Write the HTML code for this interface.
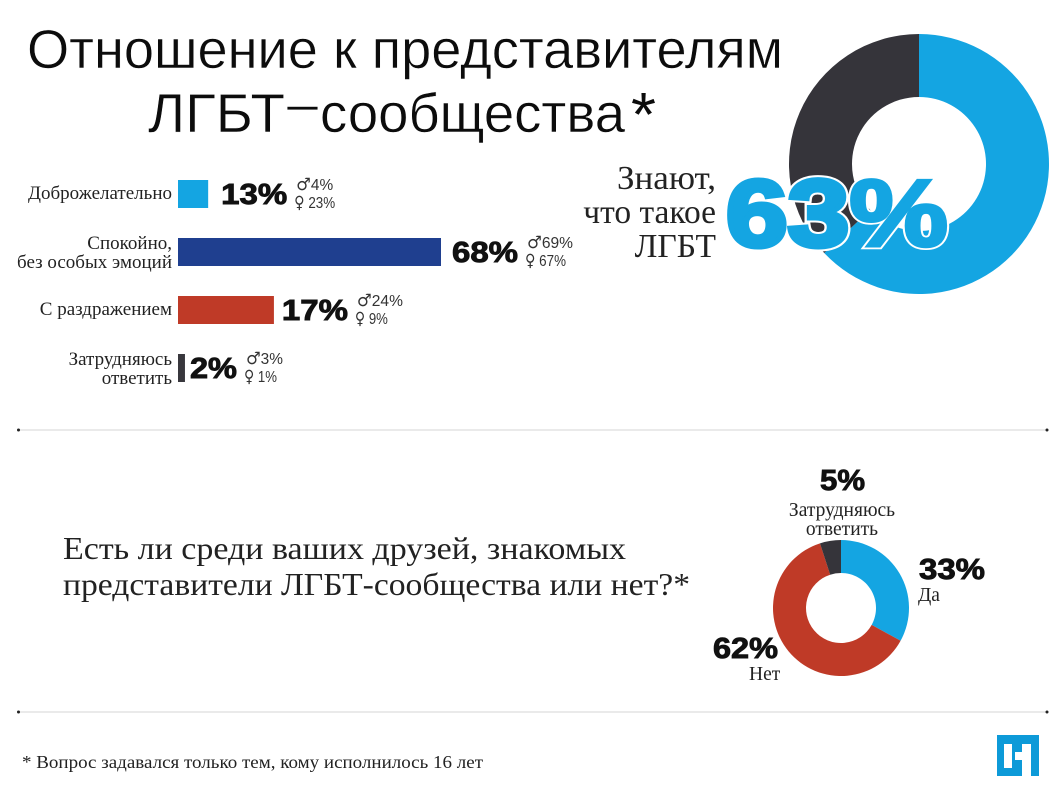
<!DOCTYPE html>
<html lang="ru">
<head>
<meta charset="utf-8">
<title>Отношение к представителям ЛГБТ-сообщества</title>
<style>
html,body{margin:0;padding:0;background:#fff;}
svg{display:block;}
.serif{font-family:"Liberation Serif","Noto Serif CJK SC",serif;fill:#222;}
.sans{font-family:"Liberation Sans","Noto Sans CJK SC",sans-serif;}
.pct{font-family:"Liberation Sans","Noto Sans CJK SC",sans-serif;font-weight:700;fill:#111;stroke:#111;stroke-width:0.9px;}
.sub{font-family:"Liberation Sans","DejaVu Sans",sans-serif;fill:#333;}
.sym{font-family:"DejaVu Sans",sans-serif;}
</style>
</head>
<body>
<svg id="chart" xmlns="http://www.w3.org/2000/svg" width="1060" height="788" viewBox="0 0 1060 788">
  <rect x="0" y="0" width="1060" height="788" fill="#fff"/>

  <g class="sans" fill="#0c0c0c" font-size="55">
    <text x="27" y="68" textLength="756" lengthAdjust="spacingAndGlyphs" stroke="#fff" stroke-width="0.5">Отношение к представителям</text>
    <text x="148" y="132" textLength="137" lengthAdjust="spacingAndGlyphs" stroke="#fff" stroke-width="0.5">ЛГБТ</text>
    <text x="287" y="122" textLength="31" lengthAdjust="spacingAndGlyphs" stroke="#fff" stroke-width="0.8">–</text>
    <text x="320" y="132" textLength="305" lengthAdjust="spacingAndGlyphs" stroke="#fff" stroke-width="0.5">сообщества</text>
    <text x="631" y="136" font-size="62" textLength="25" lengthAdjust="spacingAndGlyphs">*</text>
  </g>

  <g id="aware-donut"></g>
  <g id="bars"></g>

  <g class="serif" font-size="33.500" text-anchor="end">
    <text x="716" y="189" textLength="99" lengthAdjust="spacingAndGlyphs">Знают,</text>
    <text x="716" y="223">что такое</text>
    <text x="716" y="257">ЛГБТ</text>
  </g>
  <g class="sans" font-size="95" font-weight="700">
    <text aria-hidden="true" x="726" y="246" textLength="222" lengthAdjust="spacingAndGlyphs" fill="#fff" stroke="#fff" stroke-linejoin="miter"><tspan stroke-width="9">63</tspan><tspan stroke-width="7">%</tspan></text>
    <text x="726" y="246" textLength="222" lengthAdjust="spacingAndGlyphs" fill="#14a5e2" stroke="#14a5e2" stroke-linejoin="miter"><tspan stroke-width="5">63</tspan><tspan stroke-width="3.500">%</tspan></text>
  </g>

  <g>
    <line x1="20" y1="430" x2="1046" y2="430" stroke="#d4d4d4" stroke-width="1"/>
    <circle cx="18.500" cy="430" r="1.500" fill="#222"/>
    <circle cx="1047" cy="430" r="1.500" fill="#222"/>
  </g>

  <g class="serif" font-size="32">
    <text x="63" y="559" textLength="563" lengthAdjust="spacingAndGlyphs">Есть ли среди ваших друзей, знакомых</text>
    <text x="63" y="595" textLength="627" lengthAdjust="spacingAndGlyphs">представители ЛГБТ-сообщества или нет?*</text>
  </g>

  <g id="friends-donut"></g>
  <g>
    <text class="pct" x="820" y="490" font-size="29" textLength="45" lengthAdjust="spacingAndGlyphs">5%</text>
    <text class="serif" x="842" y="516" font-size="19.500" text-anchor="middle">Затрудняюсь</text>
    <text class="serif" x="842" y="535" font-size="19.500" text-anchor="middle">ответить</text>
    <text class="pct" x="919" y="579" font-size="29" textLength="66" lengthAdjust="spacingAndGlyphs">33%</text>
    <text class="serif" x="918" y="601" font-size="19.500">Да</text>
    <text class="pct" x="713" y="658" font-size="29" textLength="65" lengthAdjust="spacingAndGlyphs">62%</text>
    <text class="serif" x="749" y="680" font-size="19.500">Нет</text>
  </g>

  <g>
    <line x1="20" y1="712" x2="1046" y2="712" stroke="#d4d4d4" stroke-width="1"/>
    <circle cx="18.500" cy="712" r="1.500" fill="#222"/>
    <circle cx="1047" cy="712" r="1.500" fill="#222"/>
  </g>

  <text class="serif" x="22" y="768" font-size="17.500" textLength="461" lengthAdjust="spacingAndGlyphs">* Вопрос задавался только тем, кому исполнилось 16 лет</text>

  <g>
    <rect x="997" y="735" width="42" height="41" fill="#0d9ad8"/>
    <rect x="1004" y="744" width="8" height="24" fill="#fff"/>
    <rect x="1022" y="744" width="9" height="32" fill="#fff"/>
    <rect x="1015" y="752" width="7" height="8" fill="#fff"/>
  </g>
</svg>

<script>
/* Attitude bar chart data */
const barCategories = [["Доброжелательно"], ["Спокойно,", "без особых эмоций"], ["С раздражением"], ["Затрудняюсь", "ответить"]];
const barPrinted = [13, 68, 17, 2];
/* Lengths as actually drawn in the reference, which are not proportional to the printed figures */
const barDrawn = [7.8, 68, 24.8, 1.8];
const barMale = [4, 69, 24, 3];
const barFemale = [23, 67, 9, 1];
const barColors = ["#14a5e2", "#1f3f8f", "#bf3a27", "#38373d"];

/* Donut data */
const awareValues = [63, 37];
const awareColors = ["#14a5e2", "#35343a"];
const awareNames = ["aware-yes", "aware-no"];
const friendsValues = [33, 62, 5];
const friendsColors = ["#14a5e2", "#bf3a27", "#35343a"];
const friendsNames = ["friends-yes", "friends-no", "friends-unsure"];

const NS = "http://www.w3.org/2000/svg";
const BAR_X0 = 178, BAR_PX_PER_UNIT = 263 / 68, ROW_TOP = 180, ROW_STEP = 58, BAR_H = 28;
const LABEL_RIGHT = 172;
const VALUE_GAPS = [13, 11, 8, 5];

function xScale(v) { return v * BAR_PX_PER_UNIT; }
function rowY(i) { return ROW_TOP + i * ROW_STEP; }

function addText(parent, cls, x, y, size, str) {
  const t = document.createElementNS(NS, "text");
  t.setAttribute("class", cls);
  t.setAttribute("x", x);
  t.setAttribute("y", y);
  t.setAttribute("font-size", size);
  t.textContent = str;
  parent.appendChild(t);
  return t;
}

function addGenderText(parent, x, y, symbol, str, width) {
  const t = addText(parent, "sub", x, y, 16, "");
  const s = document.createElementNS(NS, "tspan");
  s.setAttribute("class", "sym");
  s.setAttribute("font-size", "17");
  s.textContent = symbol;
  t.appendChild(s);
  const n = document.createElementNS(NS, "tspan");
  n.textContent = str;
  t.appendChild(n);
  t.setAttribute("textLength", width);
  t.setAttribute("lengthAdjust", "spacingAndGlyphs");
  return t;
}

function drawBars() {
  const g = document.getElementById("bars");
  barCategories.forEach(function (lines, i) {
    const y = rowY(i), w = xScale(barDrawn[i]);
    const mid = y + BAR_H / 2;

    const r = document.createElementNS(NS, "rect");
    r.setAttribute("x", BAR_X0);
    r.setAttribute("y", y);
    r.setAttribute("width", w);
    r.setAttribute("height", BAR_H);
    r.setAttribute("fill", barColors[i]);
    
    
    g.appendChild(r);

    lines.forEach(function (line, k) {
      const base = lines.length === 1 ? mid + 5 : mid - 3 + k * 19;
      const t = addText(g, "serif", LABEL_RIGHT, base, 19, line);
      t.setAttribute("text-anchor", "end");
      
      
    });

    const vx = BAR_X0 + w + VALUE_GAPS[i];
    const str = barPrinted[i] + "%";
    const vw = str.length === 3 ? 66 : 47;
    const v = addText(g, "pct", vx, mid + 10, 29, str);
    v.setAttribute("textLength", vw);
    v.setAttribute("lengthAdjust", "spacingAndGlyphs");
    
    

    const sx = vx + vw + 8;
    const maleStr = barMale[i] + "%";
    const m = addGenderText(g, sx + 1, mid - 4, "♂", maleStr, maleStr.length === 3 ? 46 : 37);
    
    
    const femaleStr = " " + barFemale[i] + "%";
    const f = addGenderText(g, sx - 1, mid + 14, "♀", femaleStr, femaleStr.length === 4 ? 41 : 33);
    
    
  });
}

function angleOf(frac) { return frac * 2 * Math.PI; }

function drawDonut(id, values, colors, names, cx, cy, R, r) {
  const g = document.getElementById(id);
  const total = values.reduce(function (a, b) { return a + b; }, 0);
  let acc = 0;
  values.forEach(function (v, i) {
    const a0 = angleOf(acc / total), a1 = angleOf((acc + v) / total);
    acc += v;
    const large = a1 - a0 > Math.PI ? 1 : 0;
    const pt = function (rad, a) { return (cx + rad * Math.sin(a)).toFixed(2) + " " + (cy - rad * Math.cos(a)).toFixed(2); };
    const p = document.createElementNS(NS, "path");
    p.setAttribute("d", "M" + pt(R, a0) + "A" + R + " " + R + " 0 " + large + " 1 " + pt(R, a1) +
      "L" + pt(r, a1) + "A" + r + " " + r + " 0 " + large + " 0 " + pt(r, a0) + "Z");
    p.setAttribute("fill", colors[i]);
    
    
    p.setAttribute("data-series", names[i]);
    g.appendChild(p);
  });
}

drawBars();
drawDonut("aware-donut", awareValues, awareColors, awareNames, 919, 164, 130, 67);
drawDonut("friends-donut", friendsValues, friendsColors, friendsNames, 841, 608, 68, 35);
</script>
</body>
</html>
